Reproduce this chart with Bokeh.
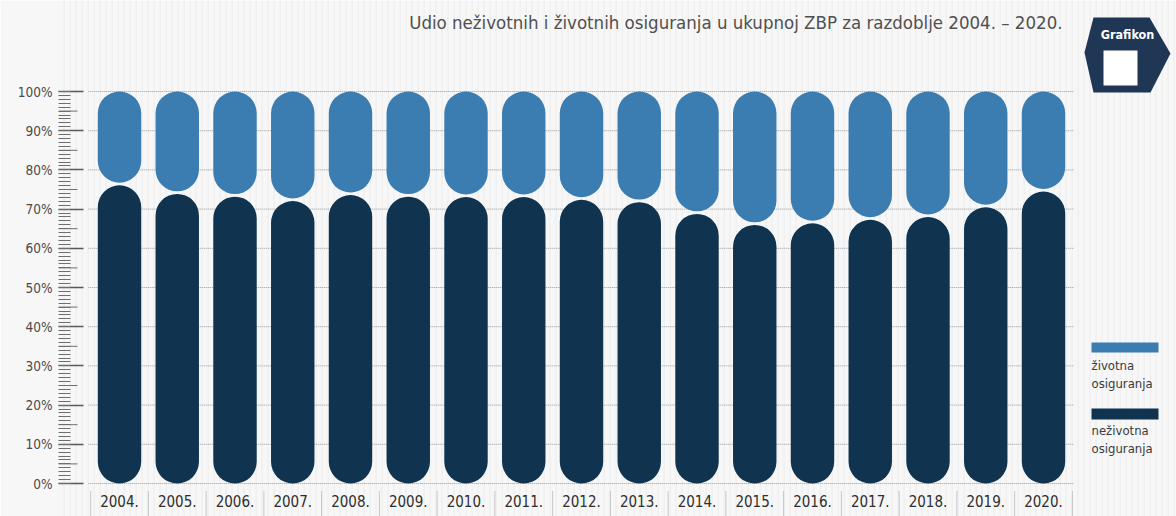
from bokeh.plotting import figure
from bokeh.models import Range1d, FixedTicker, PrintfTickFormatter, ColumnDataSource
from bokeh.core.properties import value
from bokeh.embed import file_html
from bokeh.resources import INLINE

# ---- data ----
years = ["2004.", "2005.", "2006.", "2007.", "2008.", "2009.", "2010.", "2011.", "2012.",
         "2013.", "2014.", "2015.", "2016.", "2017.", "2018.", "2019.", "2020."]
nezivotna = [76.4, 74.2, 73.5, 72.4, 73.9, 73.5, 73.4, 73.4, 72.7, 72.1, 69.1, 66.3, 66.7,
             67.6, 68.3, 70.8, 74.8]
zivotna = [23.6, 25.8, 26.5, 27.6, 26.1, 26.5, 26.6, 26.6, 27.3, 27.9, 30.9, 33.7, 33.3,
           32.4, 31.7, 29.2, 25.2]
y_ticks = list(range(0, 101, 10))
title_text = "Udio neživotnih i životnih osiguranja u ukupnoj ZBP za razdoblje 2004. – 2020."
legend_labels = ["životna\nosiguranja", "neživotna\nosiguranja"]

LIGHT = "#3b7cb1"
DARK = "#10344f"
ICON = "#1f3754"
FONT = "DejaVu Sans Condensed"

# ---- layout helpers (screen px -> data) ----
X0, DXP = 119.0, 57.75   # screen x of first bar, px per category
Y0, DYP = 483.0, 3.92    # screen y of 0 %, px per percent
def dx(sx):
    return (sx - X0) / DXP
def dy(sy):
    return (Y0 - sy) / DYP

W, H = 1176, 516
LEFT = 58
p = figure(width=W, height=H, output_backend="svg", toolbar_location=None,
           x_range=Range1d(dx(LEFT), dx(W)), y_range=Range1d(dy(H), dy(0)),
           x_axis_location=None, min_border_left=LEFT, min_border_right=0,
           min_border_top=0, min_border_bottom=0)
p.background_fill_color = "#f7f7f7"
p.border_fill_color = "#f7f7f7"
p.outline_line_color = None
p.xgrid.visible = False
p.ygrid.visible = False

# faint background texture
p.quad(left=dx(LEFT), right=dx(W), bottom=dy(H), top=dy(0), fill_alpha=0,
       line_color=None, hatch_pattern="vertical_line", hatch_color="#ececec",
       hatch_scale=6, hatch_weight=1)

# y axis
ax = p.yaxis[0]
ax.ticker = FixedTicker(ticks=y_ticks, minor_ticks=list(range(0, 101, 1)))
ax.formatter = PrintfTickFormatter(format="%d%%")
ax.axis_line_color = None
ax.major_tick_in = 25
ax.major_tick_out = 0
ax.minor_tick_in = 12
ax.minor_tick_out = 0
ax.major_tick_line_color = "#5a5a5a"
ax.major_tick_line_width = 1.5
ax.minor_tick_line_color = "#6e6e6e"
ax.major_label_standoff = 6
ax.major_label_text_font = FONT
ax.major_label_text_font_size = "13.5px"
ax.major_label_text_color = "#4a4a4a"

# medium ticks at 5 %
mid = [t + 5 for t in y_ticks[:-1]]
p.segment(x0=[dx(LEFT)] * len(mid), x1=[dx(77)] * len(mid), y0=mid, y1=mid,
          line_color="#6e6e6e", line_width=1)

# dotted grid lines
gx0, gx1 = -0.5 - 0.04, len(years) - 0.5 + 0.02
p.segment(x0=[gx0] * len(y_ticks), x1=[gx1] * len(y_ticks), y0=y_ticks, y1=y_ticks,
          line_color="#9a9a9a", line_dash="1 1", line_width=1)

# pills
idx = list(range(len(years)))
gap = 1.3 / DYP
src = ColumnDataSource(dict(
    x=idx,
    nz_top=[v - gap for v in nezivotna],
    z_bot=[v + gap for v in nezivotna],
    z_top=[a + b for a, b in zip(nezivotna, zivotna)],
))
p.vbar(x="x", bottom=0, top="nz_top", width=0.752, fill_color=DARK, line_color=None,
       border_radius=22, source=src)
p.vbar(x="x", bottom="z_bot", top="z_top", width=0.752, fill_color=LIGHT, line_color=None,
       border_radius=22, source=src)

# year labels and separators
p.text(x=idx, y=[dy(500)] * len(idx), text=years, text_font=value(FONT),
       text_font_size="15px", text_color="#2e2e2e", text_align="center",
       text_baseline="middle")
seps = [i - 0.5 for i in range(len(years) + 1)]
p.segment(x0=seps, x1=seps, y0=[dy(491)] * len(seps), y1=[dy(516)] * len(seps),
          line_color="#999999", line_dash="1 1", line_width=1)

# title
p.text(x=[dx(1062)], y=[dy(22)], text=[title_text], text_font=value(FONT),
       text_font_size="18.5px", text_color="#505050", text_align="right",
       text_baseline="middle")

# icon
ix = [1093, 1149, 1170, 1150, 1093, 1084]
iy = [17, 17, 53, 92, 92, 52]
p.patch(x=[dx(v) for v in ix], y=[dy(v) for v in iy], fill_color=ICON, line_color=None)
p.quad(left=[dx(1103)], right=[dx(1137)], top=[dy(50)], bottom=[dy(85)],
       fill_color="white", line_color=None)
p.text(x=[dx(1127)], y=[dy(34)], text=["Grafikon"], text_font=value(FONT),
       text_font_size="12.5px", text_font_style="bold", text_color="white",
       text_align="center", text_baseline="middle")

# legend
p.quad(left=[dx(1091), dx(1091)], right=[dx(1158), dx(1158)],
       top=[dy(342), dy(408)], bottom=[dy(352), dy(419)],
       fill_color=[LIGHT, DARK], line_color=None)
p.text(x=[dx(1091), dx(1091)], y=[dy(357), dy(422)], text=legend_labels,
       text_font=value(FONT), text_font_size="13px", text_color="#3a3a3a",
       text_align="left", text_baseline="top", text_line_height=1.2)

open("out.html", "w").write(file_html(p, INLINE))
